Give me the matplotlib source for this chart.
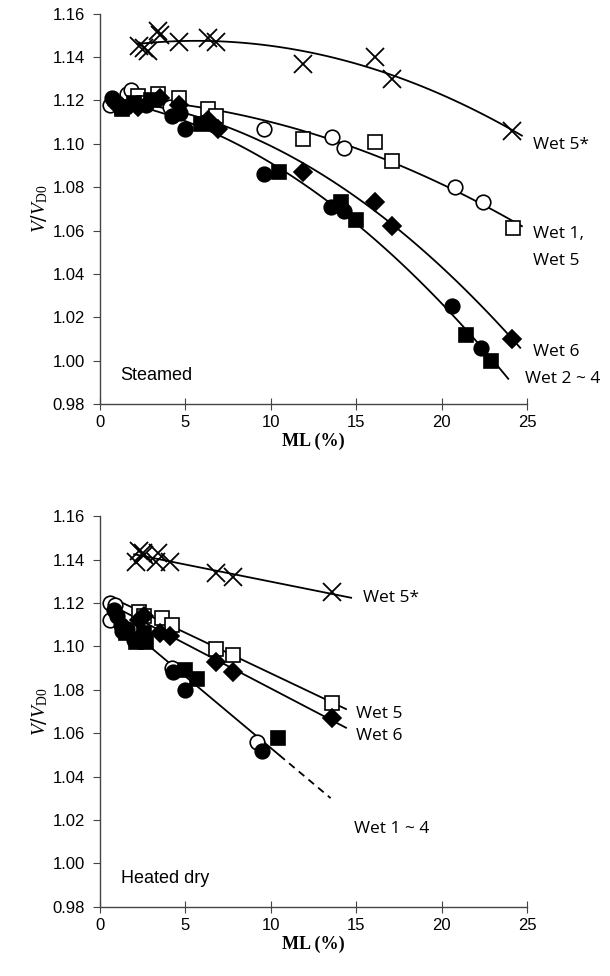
import numpy as np
import matplotlib.pyplot as plt

plt.rcParams['mathtext.fontset'] = 'custom'
plt.rcParams['mathtext.rm'] = 'Liberation Serif'
plt.rcParams['mathtext.it'] = 'Liberation Serif:italic'

# ---- Steamed (top panel) ----
s_w5s_x = [2.3, 2.6, 2.8, 3.4, 3.5, 4.6, 6.3, 6.8, 11.9, 16.1, 17.1, 24.1]
s_w5s_y = [1.145, 1.144, 1.143, 1.152, 1.150, 1.147, 1.149, 1.147, 1.137, 1.140, 1.130, 1.106]
s_w5_x = [1.3, 2.2, 2.6, 3.4, 4.6, 6.3, 6.8, 11.9, 16.1, 17.1, 24.2]
s_w5_y = [1.117, 1.122, 1.119, 1.123, 1.121, 1.116, 1.113, 1.102, 1.101, 1.092, 1.061]
s_w1_x = [0.6, 1.6, 1.8, 4.1, 9.6, 13.6, 14.3, 20.8, 22.4]
s_w1_y = [1.118, 1.123, 1.125, 1.117, 1.107, 1.103, 1.098, 1.080, 1.073]
s_w6_x = [1.0, 2.2, 3.5, 4.6, 6.3, 6.9, 11.9, 16.1, 17.1, 24.1]
s_w6_y = [1.118, 1.117, 1.121, 1.118, 1.111, 1.107, 1.087, 1.073, 1.062, 1.010]
s_fc_x = [0.7, 1.0, 1.5, 2.7, 4.2, 4.7, 5.0, 9.6, 13.5, 14.3, 20.6, 22.3]
s_fc_y = [1.121, 1.119, 1.117, 1.118, 1.113, 1.114, 1.107, 1.086, 1.071, 1.069, 1.025, 1.006]
s_fs_x = [1.3, 2.0, 3.0, 5.9, 10.5, 14.1, 15.0, 21.4, 22.9]
s_fs_y = [1.116, 1.119, 1.120, 1.109, 1.087, 1.073, 1.065, 1.012, 1.000]

# ---- Heated dry (bottom panel) ----
h_w5s_x = [2.1, 2.3, 2.5, 2.6, 3.3, 3.4, 4.1, 6.8, 7.8, 13.6]
h_w5s_y = [1.139, 1.144, 1.143, 1.142, 1.139, 1.143, 1.139, 1.134, 1.132, 1.125]
h_w5_x = [2.3, 2.6, 3.6, 4.2, 6.8, 7.8, 13.6]
h_w5_y = [1.116, 1.114, 1.113, 1.110, 1.099, 1.096, 1.074]
h_w6_x = [2.3, 2.6, 3.5, 4.1, 6.8, 7.8, 13.6]
h_w6_y = [1.112, 1.114, 1.106, 1.105, 1.093, 1.088, 1.067]
h_oc_x = [0.6, 0.9, 0.6, 4.2, 9.2]
h_oc_y = [1.120, 1.119, 1.112, 1.090, 1.056]
h_fc_x = [0.8, 1.0, 1.2, 1.3, 1.6, 2.0, 2.4, 4.3, 5.0, 9.5]
h_fc_y = [1.117, 1.114, 1.110, 1.107, 1.108, 1.103, 1.105, 1.088, 1.080, 1.052]
h_fs_x = [1.5, 2.1, 2.6, 2.7, 5.0, 5.7, 10.4]
h_fs_y = [1.106, 1.102, 1.106, 1.102, 1.089, 1.085, 1.058]

xticks = [0, 5, 10, 15, 20, 25]
yticks = np.arange(0.98, 1.1601, 0.02)


def trend(ax, xs, ys, deg, x0, x1, ls='-'):
    c = np.polyfit(np.concatenate(xs), np.concatenate(ys), deg)
    xx = np.linspace(x0, x1, 100)
    ax.plot(xx, np.polyval(c, xx), color='black', lw=1.3, ls=ls, zorder=2)
    return c


def style(ax, name):
    ax.set_xlim(0, 25)
    ax.set_ylim(0.98, 1.16)
    ax.set_xticks(xticks)
    ax.set_yticks(yticks)
    ax.set_yticklabels([f'{v:.2f}' for v in yticks])
    for s in ['top', 'right']:
        ax.spines[s].set_visible(False)
    for s in ['left', 'bottom']:
        ax.spines[s].set_color('#444444')
        ax.spines[s].set_linewidth(1.0)
    ax.tick_params(axis='y', direction='out', length=5, color='#444444',
                   labelsize=12, pad=6)
    ax.tick_params(axis='x', direction='inout', length=8, color='#444444',
                   labelsize=12, pad=4)
    for t in ax.get_xticklabels() + ax.get_yticklabels():
        t.set_fontfamily('Liberation Sans')
    ax.set_xlabel('ML (%)', fontfamily='Liberation Serif', fontweight='bold',
                  fontsize=13, labelpad=2)
    ax.set_ylabel(r'$V$/$V_{\mathrm{D0}}$', fontsize=14, labelpad=2)
    ax.text(1.2, 0.993, name, fontfamily='Liberation Sans', fontsize=13,
            va='center')


def pts(ax, x, y, m, filled, ms=10.5):
    if m == 'x':
        ax.plot(x, y, ls='none', marker='x', ms=ms + 2, mew=1.3,
                color='black', zorder=3)
    else:
        ax.plot(x, y, ls='none', marker=m, ms=ms, mew=1.2,
                mec='black', mfc='black' if filled else 'white', zorder=3)


fig = plt.figure(figsize=(6.1, 9.76), dpi=100)
ax1 = fig.add_axes([0.164, 0.586, 0.700, 0.400])
ax2 = fig.add_axes([0.164, 0.071, 0.700, 0.400])

lab = dict(fontfamily='Open Sans', fontsize=12.5, va='center', clip_on=False)

# top
trend(ax1, [s_w5s_x], [s_w5s_y], 2, 2.2, 24.7)
trend(ax1, [s_w1_x, s_w5_x], [s_w1_y, s_w5_y], 2, 2.0, 24.7)
trend(ax1, [s_w6_x], [s_w6_y], 2, 2.0, 24.6)
trend(ax1, [s_fc_x, s_fs_x], [s_fc_y, s_fs_y], 2, 2.0, 23.9)
pts(ax1, s_w5s_x, s_w5s_y, 'x', False)
pts(ax1, s_w1_x, s_w1_y, 'o', False)
pts(ax1, s_w5_x, s_w5_y, 's', False)
pts(ax1, s_fc_x, s_fc_y, 'o', True)
pts(ax1, s_fs_x, s_fs_y, 's', True)
pts(ax1, s_w6_x, s_w6_y, 'D', True, ms=9.5)
ax1.text(25.35, 1.0995, 'Wet 5*', **lab)
ax1.text(25.35, 1.0585, 'Wet 1,', **lab)
ax1.text(25.35, 1.0458, 'Wet 5', **lab)
ax1.text(25.35, 1.004, 'Wet 6', **lab)
ax1.text(24.9, 0.9915, 'Wet 2 ~ 4', **lab)
style(ax1, 'Steamed')

# bottom
trend(ax2, [h_w5s_x], [h_w5s_y], 1, 2.0, 14.7)
trend(ax2, [h_w5_x], [h_w5_y], 1, 1.0, 14.4)
trend(ax2, [h_w6_x], [h_w6_y], 1, 1.0, 14.4)
trend(ax2, [h_oc_x, h_fc_x, h_fs_x], [h_oc_y, h_fc_y, h_fs_y], 1, 1.0, 10.5)
trend(ax2, [h_oc_x, h_fc_x, h_fs_x], [h_oc_y, h_fc_y, h_fs_y], 1, 10.5, 13.5,
      ls=(0, (4, 3)))
pts(ax2, h_w5s_x, h_w5s_y, 'x', False)
pts(ax2, h_oc_x, h_oc_y, 'o', False)
pts(ax2, h_w5_x, h_w5_y, 's', False)
pts(ax2, h_fc_x, h_fc_y, 'o', True)
pts(ax2, h_fs_x, h_fs_y, 's', True)
pts(ax2, h_w6_x, h_w6_y, 'D', True, ms=9.5)
ax2.text(15.4, 1.1225, 'Wet 5*', **lab)
ax2.text(15.0, 1.0688, 'Wet 5', **lab)
ax2.text(15.0, 1.0588, 'Wet 6', **lab)
ax2.text(14.85, 1.016, 'Wet 1 ~ 4', **lab)
style(ax2, 'Heated dry')

fig.savefig('out.png', dpi=100)
